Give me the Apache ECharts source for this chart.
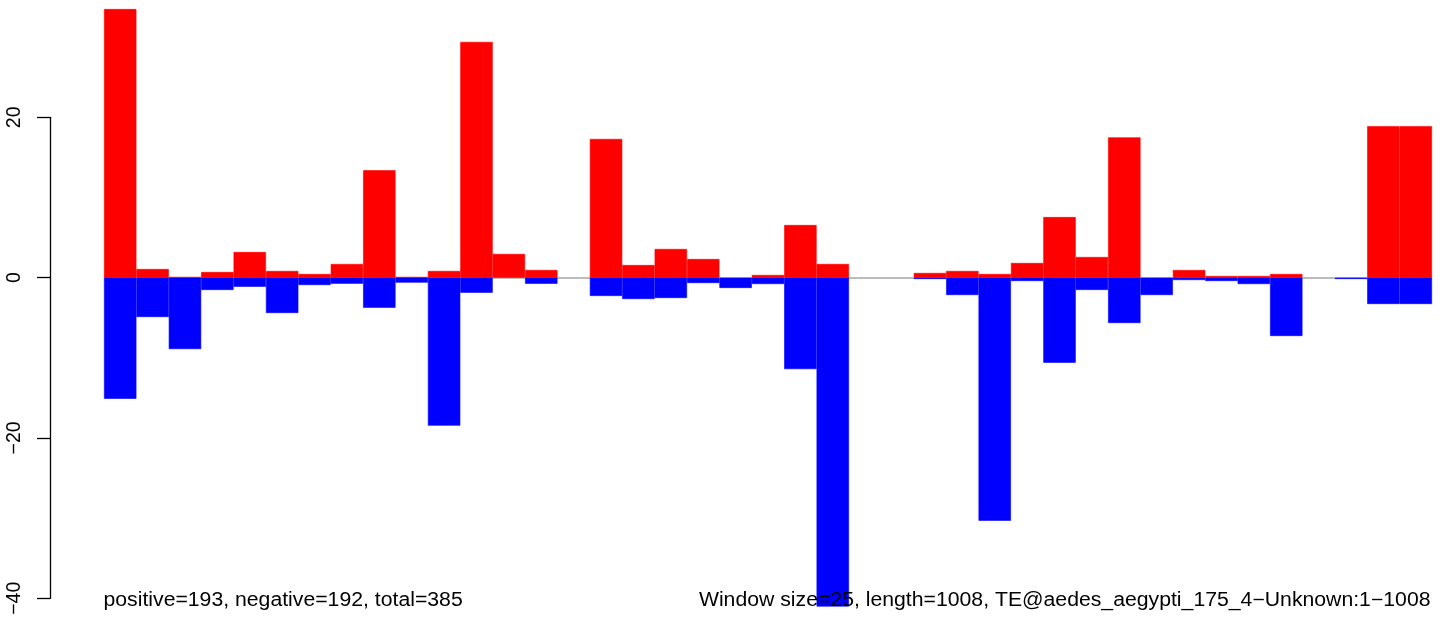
<!DOCTYPE html>
<html>
<head>
<meta charset="utf-8">
<script src="https://cdn.jsdelivr.net/npm/echarts@6/dist/echarts.min.js"></script>
<style>
html,body{margin:0;padding:0;background:#fff;}
#chart{width:1444px;height:618px;}
</style>
</head>
<body>
<div id="chart"></div>
<script>
// 41 windows of 25 bp
const windows = Array.from({length: 41}, (_, i) => String(i + 1));
const positiveValues = [33.5, 1.08, 0.09, 0.71, 3.2, 0.84, 0.46, 1.71, 13.4, 0.09,
  0.84, 29.4, 2.96, 0.96, 0, 17.3, 1.58, 3.58, 2.33, 0,
  0.34, 6.57, 1.71, 0, 0, 0.59, 0.84, 0.46, 1.83, 7.56,
  2.58, 17.5, 0, 0.96, 0.21, 0.21, 0.46, 0, 0, 18.9, 18.9];
const negativeValues = [-15.1, -4.9, -8.9, -1.53, -1.12, -4.4, -0.91, -0.75, -3.74, -0.62,
  -18.45, -1.87, 0, -0.75, 0, -2.28, -2.66, -2.53, -0.66, -1.28,
  -0.79, -11.4, -41.0, 0, 0, -0.16, -2.16, -30.3, -0.41, -10.6,
  -1.53, -5.65, -2.16, -0.29, -0.41, -0.79, -7.27, 0, -0.16, -3.28, -3.28];
const yTicks = [-40, -20, 0, 20];
const leftNote = 'positive=193, negative=192, total=385';
const rightNote = 'Window size=25, length=1008, TE@aedes_aegypti_175_4\u2212Unknown:1\u22121008';

// empty windows draw nothing (no border sliver)
const toBars = arr => arr.map(v => (v === 0 ? '-' : v));

const chart = echarts.init(document.getElementById('chart'), null, {renderer: 'canvas'});
const noteFont = '19.5px "Liberation Sans", Arial, Helvetica, sans-serif';
chart.setOption({
  animation: false,
  backgroundColor: '#ffffff',
  grid: [
    {left: 104, right: 12, top: 0, height: 614.54, containLabel: false},
    {left: 50, width: 1, top: 117.3, height: 481, containLabel: false}
  ],
  xAxis: [
    {type: 'category', gridIndex: 0, data: windows, boundaryGap: true, show: false},
    {type: 'value', gridIndex: 1, show: false, min: 0, max: 1}
  ],
  yAxis: [
    {type: 'value', gridIndex: 0, min: -42, max: 34.626, show: false},
    {type: 'value', gridIndex: 1, min: yTicks[0], max: yTicks[yTicks.length - 1], interval: 20,
      axisLine: {show: true, lineStyle: {color: '#000', width: 1.3}},
      axisTick: {show: true, length: 13, inside: false, lineStyle: {color: '#000', width: 1.3}},
      splitLine: {show: false},
      axisLabel: {show: true, rotate: 90, margin: 25.5, color: '#000', fontSize: 19.5,
        fontFamily: '"Liberation Sans", Arial, Helvetica, sans-serif',
        formatter: v => String(v).replace('-', '\u2212')}
    }
  ],
  series: [
    {type: 'bar', name: 'positive', xAxisIndex: 0, yAxisIndex: 0, data: toBars(positiveValues),
      barWidth: '100%', barGap: '-100%',
      itemStyle: {color: '#ff0000', borderColor: '#ff0000', borderWidth: 0.6}, z: 3,
      markLine: {silent: true, symbol: 'none', z: 1, label: {show: false},
        lineStyle: {color: '#a6a6a6', width: 1.5, type: 'solid'},
        data: [{yAxis: 0}]}
    },
    {type: 'bar', name: 'negative', xAxisIndex: 0, yAxisIndex: 0, data: toBars(negativeValues),
      barWidth: '100%', barGap: '-100%',
      itemStyle: {color: '#0000ff', borderColor: '#0000ff', borderWidth: 0.6}, z: 3}
  ],
  graphic: [
    {type: 'text', x: 103.5, y: 600.5, scaleX: 1.088, z: 100,
      style: {text: leftNote, font: noteFont, fill: '#000', textAlign: 'left', textVerticalAlign: 'middle'}},
    {type: 'text', x: 1430.5, y: 600.5, scaleX: 1.088, z: 100,
      style: {text: rightNote, font: noteFont, fill: '#000', textAlign: 'right', textVerticalAlign: 'middle'}}
  ]
});
</script>
</body>
</html>
